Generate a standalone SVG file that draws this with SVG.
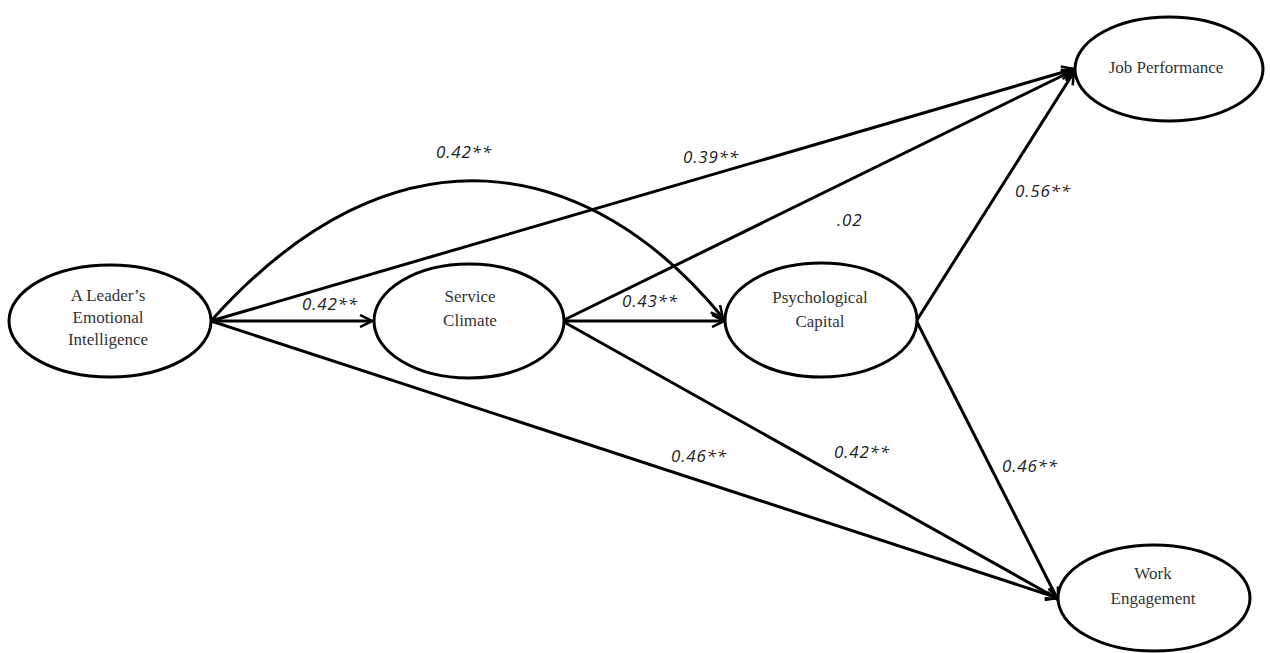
<svg xmlns="http://www.w3.org/2000/svg" width="1270" height="653" viewBox="0 0 1270 653">
<defs>
<style>
.node ellipse{fill:#fff;stroke:#000;stroke-width:3}
.node text{font-family:"Liberation Serif",serif;font-size:17px;fill:#333;text-anchor:middle}
.edge{fill:none;stroke:#000;stroke-width:3}
.lbl{font-family:"Open Sans","Liberation Sans",sans-serif;font-style:italic;font-size:17px;letter-spacing:0.8px;fill:#222}
</style>
<marker id="arr" viewBox="0 0 14 14" refX="13" refY="7" markerWidth="14" markerHeight="14" markerUnits="userSpaceOnUse" orient="auto">
<path d="M1,1 L13,7 L1,13" fill="none" stroke="#000" stroke-width="2.5"/>
</marker>
</defs>
<rect width="1270" height="653" fill="#fff"/>
<g id="connectors">
<path class="edge" d="M211,321 L372,321" marker-end="url(#arr)"/>
<path class="edge" d="M564,321 L724,321" marker-end="url(#arr)"/>
<path class="edge" d="M211,321 C395,115 590,155 723,318" marker-end="url(#arr)"/>
<path class="edge" d="M211,321 L1074,69" marker-end="url(#arr)"/>
<path class="edge" d="M564,320 L1074,70" marker-end="url(#arr)"/>
<path class="edge" d="M917,320 L1074,72" marker-end="url(#arr)"/>
<path class="edge" d="M211,321 L1058,598" marker-end="url(#arr)"/>
<path class="edge" d="M564,322 L1058,599" marker-end="url(#arr)"/>
<path class="edge" d="M917,322 L1058,600" marker-end="url(#arr)"/>
</g>
<g id="labels">
<text class="lbl" x="436" y="158">0.42**</text>
<text class="lbl" x="683" y="163">0.39**</text>
<text class="lbl" x="837" y="226">.02</text>
<text class="lbl" x="302" y="310">0.42**</text>
<text class="lbl" x="622" y="307">0.43**</text>
<text class="lbl" x="1015" y="197">0.56**</text>
<text class="lbl" x="671" y="462">0.46**</text>
<text class="lbl" x="834" y="458">0.42**</text>
<text class="lbl" x="1002" y="472">0.46**</text>
</g>
<g id="leader" class="node">
<ellipse cx="110" cy="321" rx="101" ry="56"/>
<text x="108" y="301">A Leader’s</text>
<text x="108" y="323">Emotional</text>
<text x="108" y="345">Intelligence</text>
</g>
<g id="service" class="node">
<ellipse cx="469" cy="321" rx="95" ry="57"/>
<text x="470" y="302">Service</text>
<text x="470" y="326">Climate</text>
</g>
<g id="psycap" class="node">
<ellipse cx="821" cy="320" rx="96" ry="57"/>
<text x="820" y="303">Psychological</text>
<text x="820" y="327">Capital</text>
</g>
<g id="jobperf" class="node">
<ellipse cx="1169" cy="69" rx="94" ry="52"/>
<text x="1166" y="73">Job Performance</text>
</g>
<g id="workeng" class="node">
<ellipse cx="1154" cy="598" rx="96" ry="53"/>
<text x="1153" y="579">Work</text>
<text x="1153" y="604">Engagement</text>
</g>
</svg>
